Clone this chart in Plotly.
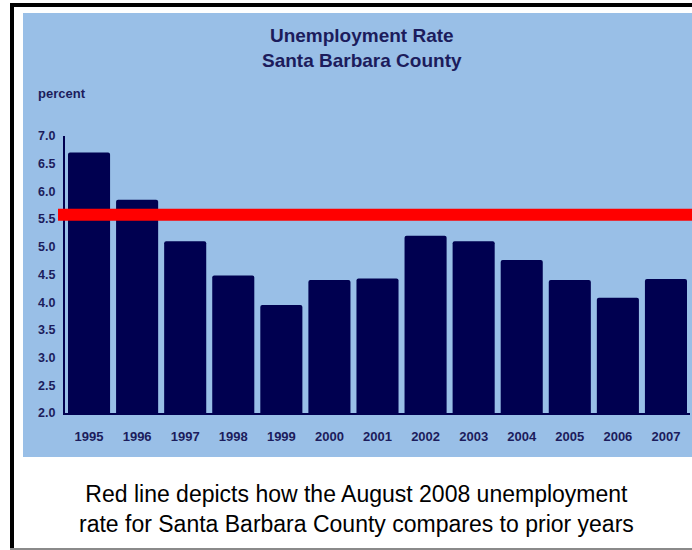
import plotly.graph_objects as go

years = ["1995", "1996", "1997", "1998", "1999", "2000", "2001",
         "2002", "2003", "2004", "2005", "2006", "2007"]
rates = [6.7, 5.85, 5.1, 4.48, 3.95, 4.4, 4.43, 5.2, 5.1, 4.76, 4.4, 4.08, 4.42]
august_2008_rate = 5.58
y_ticks = [2.0, 2.5, 3.0, 3.5, 4.0, 4.5, 5.0, 5.5, 6.0, 6.5, 7.0]
y_tick_labels = [f"{v:.1f}" for v in y_ticks]

title_lines = ["Unemployment Rate", "Santa Barbara County"]
y_unit = "percent"
caption_lines = ["Red line depicts how the August 2008 unemployment",
                 "rate for Santa Barbara County compares to prior years"]

W, H = 692, 550
ML, MR, MT, MB = 65, 2, 136, 137
PW, PH = W - ML - MR, H - MT - MB


def px_x(px):
    return (px - ML) / PW


def px_y(py):
    return (H - MB - py) / PH


NAVY = "#000050"
TEXT = "#1c1c5c"
PANEL = "#99bfe7"
FONT = "Liberation Sans, Arial, sans-serif"

fig = go.Figure()
fig.add_trace(go.Bar(x=years, y=rates, marker=dict(color=NAVY, line=dict(width=0)),
                     hoverinfo="x+y"))


def box(x0, y0, x1, y1, color):
    return dict(type="rect", xref="paper", yref="paper", x0=px_x(x0), x1=px_x(x1),
                y0=px_y(y1), y1=px_y(y0), fillcolor=color, line=dict(width=0),
                layer="below")


shapes = [
    # light blue panel
    box(23, 13, 700, 457, PANEL),
    # black frame top & left
    box(10, 3, 700, 7, "black"),
    box(10, 3, 14, 552, "black"),
    # bottom gray line
    box(10, 548, 700, 550, "#8a8a8a"),
    # red reference line (Aug 2008 rate)
    dict(type="line", xref="paper", yref="y", x0=px_x(58), x1=px_x(700),
         y0=august_2008_rate, y1=august_2008_rate,
         line=dict(color="#ff0000", width=12), layer="above"),
]

annotations = [
    dict(text="<b>" + "<br>".join(title_lines) + "</b>", xref="paper", yref="paper",
         x=px_x(362), y=px_y(48), xanchor="center", yanchor="middle", showarrow=False,
         font=dict(family=FONT, size=19, color=TEXT), align="center"),
    dict(text="<b>" + y_unit + "</b>", xref="paper", yref="paper",
         x=px_x(36), y=px_y(93), xanchor="left", yanchor="middle", showarrow=False,
         font=dict(family=FONT, size=13, color=TEXT)),
    dict(text="<br>".join(caption_lines), xref="paper", yref="paper",
         x=px_x(356), y=px_y(509), xanchor="center", yanchor="middle", showarrow=False,
         font=dict(family=FONT, size=23, color="black"), align="center"),
]

fig.update_layout(
    width=W, height=H,
    margin=dict(l=ML, r=MR, t=MT, b=MB, pad=0),
    paper_bgcolor="white",
    plot_bgcolor="rgba(0,0,0,0)",
    showlegend=False,
    bargap=0.125,
    barcornerradius=2,
    shapes=shapes,
    annotations=annotations,
    xaxis=dict(type="category", range=[-0.5, len(years) - 0.5], showgrid=False,
               showline=True, linecolor=NAVY, linewidth=2, ticks="", zeroline=False,
               ticklabelstandoff=10,
               tickfont=dict(family=FONT, size=13, color=TEXT, weight="bold")),
    yaxis=dict(range=[2.0, 7.0], tickvals=y_ticks, ticktext=y_tick_labels,
               showgrid=False, zeroline=False, showline=True, linecolor=NAVY,
               linewidth=2, ticks="", ticklabelstandoff=5,
               tickfont=dict(family=FONT, size=12.5, color=TEXT, weight="bold")),
)

fig.write_html("out.html", config={"displayModeBar": False},
               post_script="document.body.style.margin='0';")
